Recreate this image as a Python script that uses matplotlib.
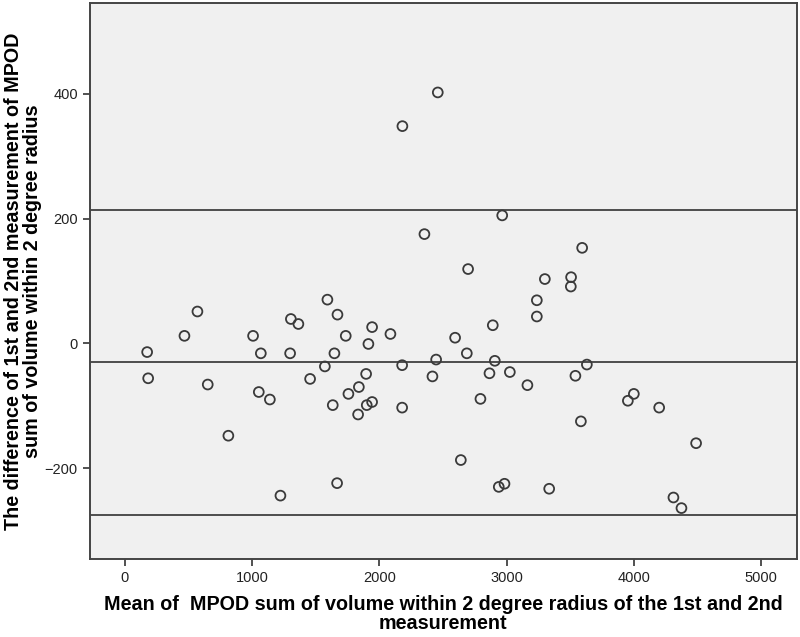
import matplotlib
matplotlib.use("Agg")
import matplotlib.pyplot as plt

plt.rcParams["font.family"] = ["Liberation Sans", "DejaVu Sans"]

# mean of the two measurements (x) and their difference (y)
mean_vals = [
    2460, 2182, 2355, 1593, 2966, 3594, 2698, 3301, 3507, 3505,
    572, 1672, 1306, 1365, 1944, 470, 1009, 1737, 2088, 1915,
    177, 1070, 1300, 1648, 2447, 1573, 2180, 1897, 2418, 185,
    1457, 653, 1840, 1054, 1758, 1141, 1635, 1902, 1944, 2180,
    1834, 815, 1669, 1224,
    3238, 3238, 2892, 2596, 2688, 2908, 3631, 2866, 3026, 3541,
    3164, 2795, 4000, 3953, 4199, 3584, 4489, 2641, 2984, 2939,
    3335, 4311, 4374,
]
diff_vals = [
    402, 348, 175, 70, 205, 153, 119, 103, 106, 91,
    51, 46, 39, 31, 26, 12, 12, 12, 15, -1,
    -14, -16, -16, -16, -26, -37, -35, -49, -53, -56,
    -57, -66, -70, -78, -81, -90, -99, -99, -94, -103,
    -114, -148, -224, -244,
    69, 43, 29, 9, -16, -28, -34, -48, -46, -52,
    -67, -89, -81, -92, -103, -125, -160, -187, -225, -230,
    -233, -247, -264,
]

mean_diff = -30
upper_loa = 214
lower_loa = -275

x_ticks = [0, 1000, 2000, 3000, 4000, 5000]
y_ticks = [-200, 0, 200, 400]

fig = plt.figure(figsize=(8, 6.37), dpi=100)
ax = fig.add_axes([0.112, 0.122, 0.884, 0.873])
ax.set_facecolor("#f0f0f0")

# mean difference and limits of agreement
for yv in [upper_loa, mean_diff, lower_loa]:
    ax.axhline(yv, color="#4d4d4d", linewidth=1.4, zorder=1)

ax.scatter(mean_vals, diff_vals, s=50, facecolors="none",
           edgecolors="#3a3a3a", linewidths=1.3, zorder=3)

ax.set_xlim(-275, 5280)
ax.set_ylim(-346, 545)
ax.set_xticks(x_ticks)
ax.set_yticks(y_ticks)
ax.tick_params(direction="out", length=5, width=1.2, color="#333333",
               labelsize=10.5, labelcolor="#222222")
for sp in ax.spines.values():
    sp.set_color("#444444")
    sp.set_linewidth(1.4)

ax.set_xlabel("Mean of  MPOD sum of volume within 2 degree radius of the 1st and 2nd\nmeasurement",
              fontsize=14.2, fontweight="bold", linespacing=1.0)
ax.set_ylabel("The difference of 1st and 2nd measurement of MPOD\nsum of volume within 2 degree radius",
              fontsize=14.2, fontweight="bold", linespacing=1.0)
ax.xaxis.set_label_coords(0.5, -0.065)
ax.yaxis.set_label_coords(-0.068, 0.5)

fig.savefig("out.png", dpi=100)
